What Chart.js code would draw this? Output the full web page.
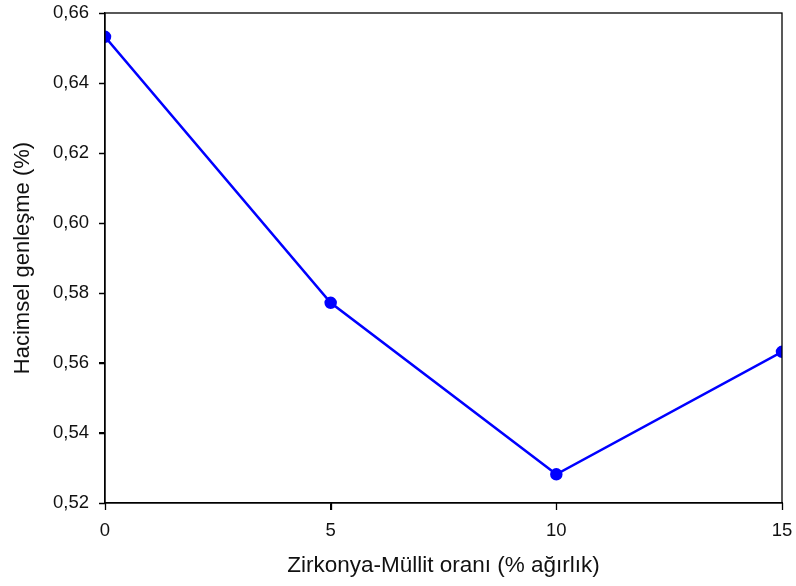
<!DOCTYPE html>
<html>
<head>
<meta charset="utf-8">
<script src="https://cdn.jsdelivr.net/npm/chart.js@4"></script>
<style>
  html, body { margin: 0; padding: 0; background: #fff; }
  #wrap { width: 796px; height: 586px; }
</style>
</head>
<body>
<div id="wrap"><canvas id="myChart" width="796" height="586"></canvas></div>
<script>
// zirkonya-müllit oranı (% ağırlık) ve hacimsel genleşme (%)
const oran = [0, 5, 10, 15];
const genlesme = [0.6532, 0.5772, 0.5282, 0.5632];
const yTicks = [0.52, 0.54, 0.56, 0.58, 0.60, 0.62, 0.64, 0.66];
const xTicks = [0, 5, 10, 15];

const fontName = "'Liberation Sans', Arial, sans-serif";

// kutu çerçevesi + dışa doğru tik çizgileri
const frame = {
    id: 'frame',
    afterDraw(chart) {
        const a = chart.chartArea;
        const c = chart.ctx;
        const xs = chart.scales.x;
        const ys = chart.scales.y;
        c.save();
        c.strokeStyle = '#000';
        c.lineWidth = 1.3;
        c.strokeRect(a.left, a.top, a.right - a.left, a.bottom - a.top);
        c.beginPath();
        xTicks.forEach(v => {
            const px = Math.round(xs.getPixelForValue(v)) + 0.5;
            c.moveTo(px, a.bottom);
            c.lineTo(px, a.bottom + 7);
        });
        yTicks.forEach(v => {
            const py = Math.round(ys.getPixelForValue(v)) + 0.5;
            c.moveTo(a.left, py);
            c.lineTo(a.left - 6, py);
        });
        c.stroke();
        c.restore();
    }
};

// etiket taşmaları için eklenen iç boşlukları sıfırla
function noEdgePad(s) {
    s.paddingTop = 0;
    s.paddingBottom = 0;
    s.paddingLeft = 0;
    s.paddingRight = 0;
}

const points = oran.map((x, i) => ({ x: x, y: genlesme[i] }));

new Chart(document.getElementById('myChart'), {
    type: 'line',
    data: {
        datasets: [{
            data: points,
            borderColor: '#0000ff',
            backgroundColor: '#0000ff',
            borderWidth: 2.5,
            pointRadius: 5,
            pointHoverRadius: 5,
            tension: 0
        }]
    },
    options: {
        responsive: false,
        animation: false,
        layout: { padding: { left: 0, right: 14, top: 13, bottom: 0 } },
        plugins: {
            legend: { display: false },
            tooltip: { enabled: false }
        },
        scales: {
            x: {
                type: 'linear',
                min: 0,
                max: 15,
                afterBuildTicks: (s) => { s.ticks = xTicks.map(v => ({ value: v })); },
                afterFit: (s) => { s.height = 83; noEdgePad(s); },
                grid: { drawOnChartArea: false, drawTicks: true, tickLength: 7, color: '#000', tickColor: '#000' },
                border: { color: '#000', width: 1.3 },
                ticks: {
                    color: '#111',
                    padding: 10,
                    font: { family: fontName, size: 18.5 }
                },
                title: {
                    display: true,
                    text: 'Zirkonya-Müllit oranı (% ağırlık)',
                    color: '#111',
                    padding: { top: 0, bottom: 7 },
                    font: { family: fontName, size: 22.5 }
                }
            },
            y: {
                min: 0.52,
                max: 0.66,
                afterBuildTicks: (s) => { s.ticks = yTicks.map(v => ({ value: v })); },
                afterFit: (s) => { s.width = 105; noEdgePad(s); },
                grid: { drawOnChartArea: false, drawTicks: true, tickLength: 6, color: '#000', tickColor: '#000' },
                border: { color: '#000', width: 1.3 },
                ticks: {
                    color: '#111',
                    padding: 10,
                    font: { family: fontName, size: 18.5 },
                    callback: (v) => v.toFixed(2).replace('.', ',')
                },
                title: {
                    display: true,
                    text: 'Hacimsel genleşme (%)',
                    color: '#111',
                    padding: { top: 10, bottom: 0 },
                    font: { family: fontName, size: 22 }
                }
            }
        }
    },
    plugins: [frame]
});
</script>
</body>
</html>
